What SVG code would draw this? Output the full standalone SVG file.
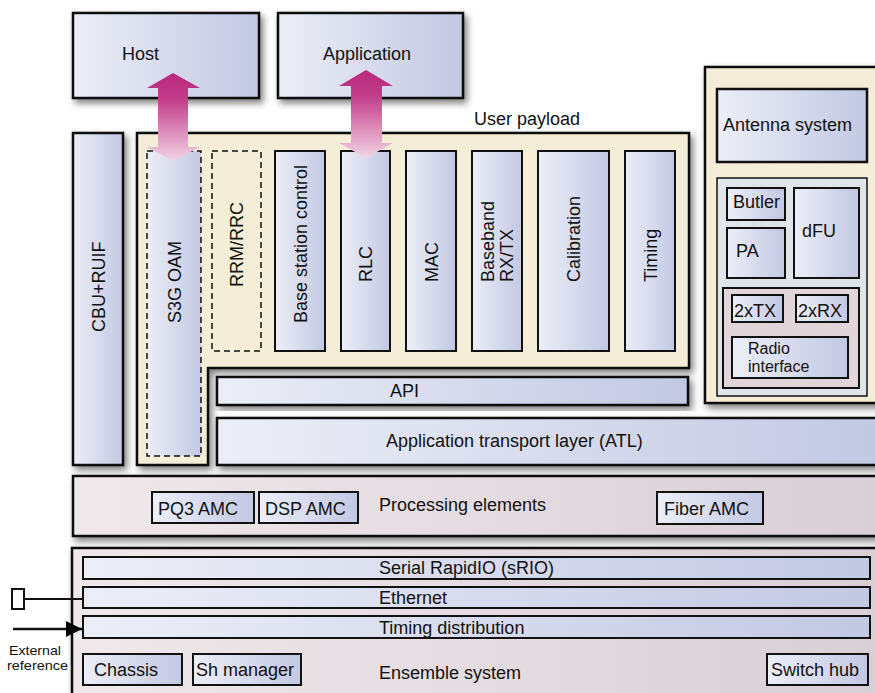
<svg xmlns="http://www.w3.org/2000/svg" width="875" height="693" viewBox="0 0 875 693">
<defs>
<linearGradient id="gBox" x1="0" y1="0" x2="1" y2="0"><stop offset="0" stop-color="#eceef7"/><stop offset="1" stop-color="#c3c8e3"/></linearGradient>
<linearGradient id="gBase" x1="0" y1="0" x2="1" y2="0"><stop offset="0" stop-color="#efe9eb"/><stop offset="1" stop-color="#d9cfd6"/></linearGradient>
<linearGradient id="gArrow" x1="0" y1="0" x2="0" y2="1"><stop offset="0" stop-color="#b8287c"/><stop offset="0.3" stop-color="#c23d8a"/><stop offset="1" stop-color="#f3d5e4"/></linearGradient>
<filter id="sh" x="-20%" y="-20%" width="140%" height="140%"><feDropShadow dx="3" dy="4" stdDeviation="3.5" flood-color="#000" flood-opacity="0.5"/></filter>
<marker id="ah" viewBox="0 0 10 10" refX="10" refY="5" markerWidth="16" markerHeight="18" markerUnits="userSpaceOnUse" orient="auto"><path d="M0,0 L10,5 L0,10 z" fill="#000"/></marker>
<style>
.b{fill:url(#gBox);stroke:#111;stroke-width:2.5}
.bs{fill:url(#gBox);stroke:#111;stroke-width:2}
.base{fill:url(#gBase);stroke:#111;stroke-width:2.5}
.cream{fill:#f4eed8;stroke:#111;stroke-width:2.5}
.dash{stroke:#111;stroke-width:1.5;stroke-dasharray:6 4}
text{font-family:"Liberation Sans",Arial,sans-serif;font-size:18px;fill:#111}
.sm{font-size:13px}
.ri{font-size:16px}
</style>
</defs>

<g id="host"><rect x="73" y="13" width="186" height="85" class="b" filter="url(#sh)"/><text x="122" y="60">Host</text></g>
<g id="application"><rect x="278" y="13" width="185" height="85" class="b" filter="url(#sh)"/><text x="323" y="60">Application</text></g>

<g id="cbu-ruif"><rect x="73" y="133" width="50" height="332" class="b" filter="url(#sh)"/><text transform="translate(104.5,332) rotate(-90)">CBU+RUIF</text></g>

<g id="user-payload">
<path d="M137,133 H689 V368 H208 V465 H137 Z" class="cream" filter="url(#sh)"/>
<text x="474" y="125">User payload</text>
</g>
<g id="s3g-oam"><rect x="147" y="151" width="54" height="305" fill="url(#gBox)" class="dash"/><text transform="translate(180.5,323) rotate(-90)">S3G OAM</text></g>
<g id="rrm-rrc"><rect x="212" y="151" width="49" height="200" fill="none" class="dash"/><text transform="translate(243,287) rotate(-90)">RRM/RRC</text></g>
<g id="base-station-control"><rect x="275" y="151" width="50" height="200" class="bs"/><text transform="translate(306.5,323) rotate(-90)">Base station control</text></g>
<g id="rlc"><rect x="341" y="151" width="49" height="200" class="bs"/><text transform="translate(372,282) rotate(-90)">RLC</text></g>
<g id="mac"><rect x="406" y="151" width="50" height="200" class="bs"/><text transform="translate(437.5,282) rotate(-90)">MAC</text></g>
<g id="baseband"><rect x="472" y="151" width="50" height="200" class="bs"/><text transform="translate(494,282) rotate(-90)">Baseband</text><text transform="translate(513,282) rotate(-90)">RX/TX</text></g>
<g id="calibration"><rect x="538" y="151" width="71" height="200" class="bs"/><text transform="translate(580,282) rotate(-90)">Calibration</text></g>
<g id="timing"><rect x="625" y="151" width="50" height="200" class="bs"/><text transform="translate(656.5,282) rotate(-90)">Timing</text></g>

<g id="api"><rect x="217" y="377" width="471" height="28" class="b" filter="url(#sh)"/><text x="390" y="397">API</text></g>
<g id="atl"><rect x="217" y="418" width="665" height="47" class="b" filter="url(#sh)"/><text x="386" y="447">Application transport layer (ATL)</text></g>

<g id="radio-panel">
<rect x="705" y="67" width="180" height="336" class="cream" filter="url(#sh)"/>
</g>
<g id="antenna-system"><rect x="717" y="89" width="150" height="73" class="b"/><text x="723" y="131">Antenna system</text></g>
<g id="radio-unit">
<rect x="717" y="178" width="150" height="218" fill="#dfe5e8" stroke="#111" stroke-width="1.5"/>
</g>
<g id="butler"><rect x="727" y="188" width="58" height="32" class="bs"/><text x="733" y="208">Butler</text></g>
<g id="pa"><rect x="727" y="228" width="58" height="50" class="bs"/><text x="736" y="257">PA</text></g>
<g id="dfu"><rect x="794" y="188" width="65" height="90" class="bs"/><text x="802" y="237">dFU</text></g>
<g id="radio-block"><rect x="723" y="288" width="136" height="100" fill="#e1d5da" stroke="#111" stroke-width="2"/></g>
<g id="tx"><rect x="732" y="295" width="51" height="27" class="bs"/><text x="734" y="317">2xTX</text></g>
<g id="rx"><rect x="796" y="295" width="52" height="27" class="bs"/><text x="798" y="317">2xRX</text></g>
<g id="radio-interface"><rect x="732" y="337" width="116" height="41" class="bs"/><text class="ri" x="748" y="354">Radio</text><text class="ri" x="748" y="372">interface</text></g>

<g id="processing-elements">
<rect x="73" y="476" width="810" height="60" class="base" filter="url(#sh)"/>
<text x="379" y="511">Processing elements</text>
</g>
<g id="pq3-amc"><rect x="152" y="492" width="102" height="31" class="bs"/><text x="158" y="515">PQ3 AMC</text></g>
<g id="dsp-amc"><rect x="259" y="492" width="99" height="31" class="bs"/><text x="265" y="515">DSP AMC</text></g>
<g id="fiber-amc"><rect x="657" y="492" width="106" height="32" class="bs"/><text x="664" y="515">Fiber AMC</text></g>

<g id="ensemble-system">
<rect x="72" y="548" width="812" height="150" class="base" filter="url(#sh)"/>
<text x="379" y="679">Ensemble system</text>
</g>
<g id="srio"><rect x="83" y="557" width="787" height="22" class="bs"/><text x="379" y="574">Serial RapidIO (sRIO)</text></g>
<g id="ethernet"><rect x="83" y="587" width="787" height="21" class="bs"/><text x="379" y="604">Ethernet</text></g>
<g id="timing-distribution"><rect x="83" y="616" width="787" height="22" class="bs"/><text x="379" y="634">Timing distribution</text></g>
<g id="chassis"><rect x="83" y="654" width="99" height="31" class="bs"/><text x="94" y="676">Chassis</text></g>
<g id="sh-manager"><rect x="193" y="654" width="108" height="31" class="bs"/><text x="196" y="676">Sh manager</text></g>
<g id="switch-hub"><rect x="767" y="654" width="101" height="31" class="bs"/><text x="771" y="676">Switch hub</text></g>

<g id="ethernet-port"><rect x="12" y="589" width="12" height="20" fill="#fff" stroke="#111" stroke-width="2"/></g>
<g id="external-reference"><text class="sm" x="9" y="655" textLength="52" lengthAdjust="spacingAndGlyphs">External</text><text class="sm" x="7" y="670" textLength="61" lengthAdjust="spacingAndGlyphs">reference</text></g>

<g id="connectors">
<path d="M173,73 L200,88 L188,88 L188,147 L200,147 L173,161 L147,147 L158,147 L158,88 L147,88 Z" fill="url(#gArrow)"/>
<path d="M366,70 L393,86 L382,86 L382,143 L393,143 L366,158 L339,143 L351,143 L351,86 L339,86 Z" fill="url(#gArrow)"/>
<line x1="24" y1="599" x2="83" y2="599" stroke="#111" stroke-width="2"/>
<line x1="13" y1="629" x2="82" y2="629" stroke="#111" stroke-width="2.5" marker-end="url(#ah)"/>
</g>
</svg>
